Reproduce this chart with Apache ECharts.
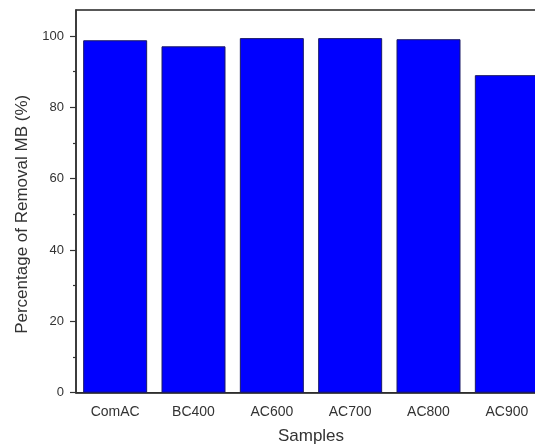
<!DOCTYPE html>
<html><head><meta charset="utf-8">
<script src="https://cdn.jsdelivr.net/npm/echarts@6/dist/echarts.min.js"></script>
<style>html,body{margin:0;padding:0;background:#fff}#c{width:535px;height:448px}</style>
</head><body><div id="c"></div>
<script>
const categories = ['ComAC', 'BC400', 'AC600', 'AC700', 'AC800', 'AC900'];
const removal = [99.0, 97.3, 99.6, 99.6, 99.3, 89.2];
const yTicks = [0, 20, 40, 60, 80, 100];

const chart = echarts.init(document.getElementById('c'), null, {renderer: 'canvas'});
const axisColor = '#333';
const font = 'Liberation Sans, Arial, sans-serif';
chart.setOption({
  animation: false,
  backgroundColor: '#fff',
  grid: [
    {left: 76, top: 10, right: -11, bottom: 55.3, outerBoundsMode: 'none', containLabel: false,
     show: true, borderColor: '#222', borderWidth: 1.5, backgroundColor: 'transparent'},
    {left: 76, top: 36, right: -11, bottom: 55.3, outerBoundsMode: 'none', containLabel: false}
  ],
  xAxis: [{
    type: 'category', data: categories, position: 'bottom', gridIndex: 0,
    name: 'Samples', nameLocation: 'middle', nameGap: 35,
    nameTextStyle: {fontSize: 17, color: '#333', fontFamily: font},
    axisLine: {lineStyle: {color: axisColor, width: 1.5}},
    axisTick: {alignWithLabel: true, length: 5, lineStyle: {color: axisColor, width: 1.2}},
    axisLabel: {fontSize: 14, color: '#333', fontFamily: font, margin: 12}
  }, {
    type: 'category', data: categories, position: 'bottom', gridIndex: 0,
    axisLine: {show: false},
    axisTick: {alignWithLabel: false, length: 3, lineStyle: {color: axisColor, width: 1.2}},
    axisLabel: {show: false}
  }, {
    type: 'category', data: categories, gridIndex: 1, show: false
  }],
  yAxis: [{
    type: 'value', min: 0, max: 107.5, gridIndex: 0,
    axisLine: {show: true, lineStyle: {color: axisColor, width: 1.5}},
    axisTick: {show: false}, axisLabel: {show: false}, splitLine: {show: false}
  }, {
    type: 'value', min: 0, max: 100, interval: 20, gridIndex: 1,
    name: 'Percentage of Removal MB (%)', nameLocation: 'middle', nameGap: 45,
    nameTextStyle: {fontSize: 17, color: '#333', fontFamily: font},
    axisLine: {show: false},
    axisTick: {show: true, length: 6, lineStyle: {color: axisColor, width: 1.2}},
    minorTick: {show: true, splitNumber: 2, length: 3, lineStyle: {color: axisColor, width: 1.2}},
    axisLabel: {fontSize: 13, color: '#333', fontFamily: font, margin: 12,
      formatter: v => yTicks.includes(v) ? String(v) : ''},
    splitLine: {show: false}
  }],
  series: [{
    type: 'bar', data: removal, barWidth: 64, xAxisIndex: 0, yAxisIndex: 0,
    itemStyle: {color: '#0000ff', borderColor: '#1a1a66', borderWidth: 1}
  }]
});
</script></body></html>
